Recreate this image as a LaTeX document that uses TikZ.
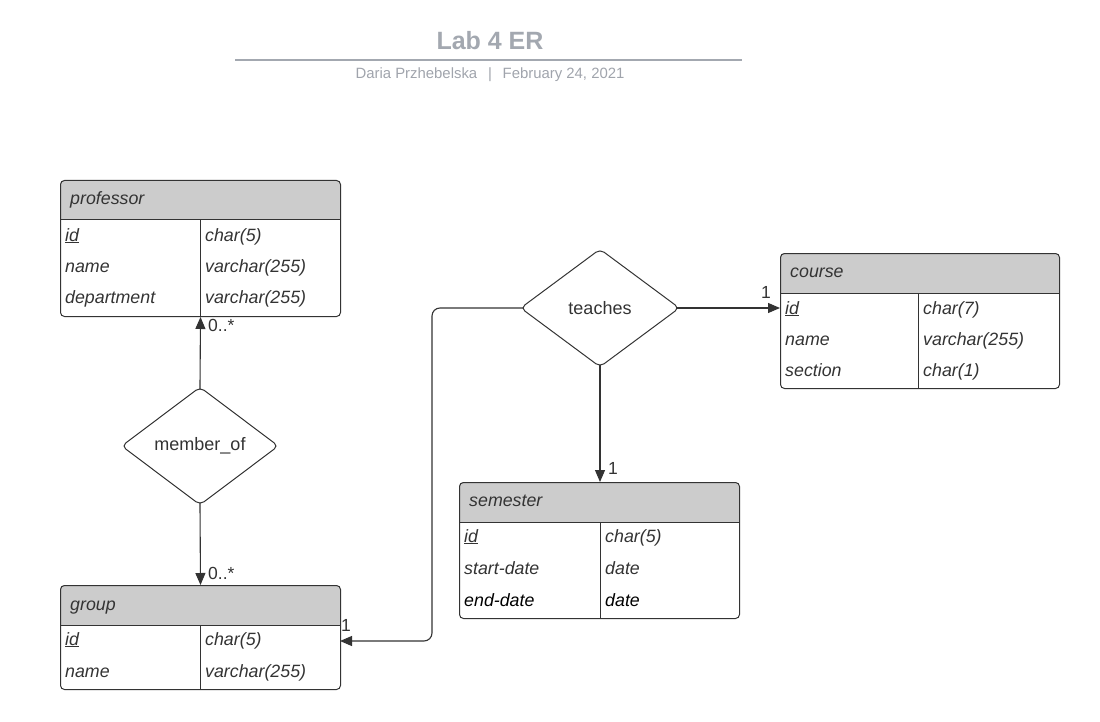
\documentclass[tikz,border=0pt]{standalone}
\usepackage{fontspec}
\setmainfont{Liberation Sans}
\usetikzlibrary{shapes.geometric,arrows.meta}
\definecolor{titlegray}{RGB}{163,168,176}
\definecolor{subgray}{RGB}{160,164,172}
\definecolor{hdrfill}{RGB}{204,204,204}
\definecolor{ink}{RGB}{51,51,51}
\begin{document}
\begin{tikzpicture}[x=1pt,y=-1pt,
  tbl/.style={draw=ink, line width=1pt, rounded corners=4pt, inner sep=0pt, anchor=north west},
  rule/.style={draw=ink, line width=1pt},
  cell/.style={anchor=base west, inner sep=0pt, text=ink, font=\fontsize{17.8}{20}\selectfont\itshape},
  cellk/.style={cell, text=black},
  rel/.style={shape=diamond, draw=ink, line width=1pt, rounded corners=5pt, inner sep=0pt, text=ink, font=\fontsize{18}{20}\selectfont},
  conn/.style={draw=ink, line width=1.1pt, -{Triangle[length=12pt,width=10pt]}},
  card/.style={anchor=base west, inner sep=0pt, text=ink, font=\fontsize{17.5}{20}\selectfont}]
\useasboundingbox (0,0) rectangle (1100,722);

% title
\node[text=titlegray, font=\fontsize{25}{28}\selectfont\bfseries] (title) at (490,41) {Lab 4 ER};
\draw[titlegray, line width=2pt] (235,60) -- (742,60);
\node[text=subgray, font=\fontsize{14.9}{17}\selectfont] (subtitle) at (490,74.5) {Daria Przhebelska \ \,|\ \, February 24, 2021};

% professor
\begin{scope}
\clip[rounded corners=4pt] (60,180) rectangle (340,316);
\fill[hdrfill] (60,180) rectangle (340,220);
\end{scope}
\node[tbl, minimum width=280pt, minimum height=136pt] (professor) at (60,180) {};
\draw[rule] (60,220) -- (340,220);
\draw[rule] (200,220) -- (200,316);
\node[cell] (p-h) at (70,205) {professor};
\node[cell] (p-1a) at (65,241) {\underline{id}};
\node[cell] (p-1b) at (205,241) {char(5)};
\node[cell] (p-2a) at (65,272) {name};
\node[cell] (p-2b) at (205,272) {varchar(255)};
\node[cell] (p-3a) at (65,303) {department};
\node[cell] (p-3b) at (205,303) {varchar(255)};

% course
\begin{scope}
\clip[rounded corners=4pt] (780,253) rectangle (1059,388);
\fill[hdrfill] (780,253) rectangle (1059,293);
\end{scope}
\node[tbl, minimum width=279pt, minimum height=135pt] (course) at (780,253) {};
\draw[rule] (780,293) -- (1059,293);
\draw[rule] (918,293) -- (918,388);
\node[cell] (c-h) at (790,277) {course};
\node[cell] (c-1a) at (785,314) {\underline{id}};
\node[cell] (c-1b) at (923,314) {char(7)};
\node[cell] (c-2a) at (785,345) {name};
\node[cell] (c-2b) at (923,345) {varchar(255)};
\node[cell] (c-3a) at (785,376) {section};
\node[cell] (c-3b) at (923,376) {char(1)};

% semester
\begin{scope}
\clip[rounded corners=4pt] (459,482) rectangle (739,618);
\fill[hdrfill] (459,482) rectangle (739,522);
\end{scope}
\node[tbl, minimum width=280pt, minimum height=136pt] (semester) at (459,482) {};
\draw[rule] (459,522) -- (739,522);
\draw[rule] (600,522) -- (600,618);
\node[cell] (s-h) at (469,506) {semester};
\node[cell] (s-1a) at (464,542) {\underline{id}};
\node[cell] (s-1b) at (605,542) {char(5)};
\node[cell] (s-2a) at (464,574) {start-date};
\node[cell] (s-2b) at (605,574) {date};
\node[cellk] (s-3a) at (464,606) {end-date};
\node[cellk] (s-3b) at (605,606) {date};

% group
\begin{scope}
\clip[rounded corners=4pt] (60,585) rectangle (340,689);
\fill[hdrfill] (60,585) rectangle (340,625);
\end{scope}
\node[tbl, minimum width=280pt, minimum height=104pt] (group) at (60,585) {};
\draw[rule] (60,625) -- (340,625);
\draw[rule] (200,625) -- (200,689);
\node[cell] (g-h) at (70,610) {group};
\node[cell] (g-1a) at (65,645) {\underline{id}};
\node[cell] (g-1b) at (205,645) {char(5)};
\node[cell] (g-2a) at (65,677) {name};
\node[cell] (g-2b) at (205,677) {varchar(255)};

% relationships
\node[rel, minimum width=157pt, minimum height=118pt, aspect=1.33] (memberof) at (200,446) {member\_of};
\node[rel, minimum width=159pt, minimum height=118pt, aspect=1.35] (teaches) at (600,308) {teaches};

% connectors
\draw[conn, shorten <=-3pt] (memberof.north) -- (professor.south);
\draw[conn, shorten <=-3pt] (memberof.south) -- (group.north);
\coordinate (cin) at (780,308);
\draw[conn, shorten <=-3pt] (teaches.east) -- (cin);
\coordinate (sin) at (600,482);
\draw[conn, shorten <=-3pt] (teaches.south) -- (sin);
\coordinate (bend) at (432,641);
\coordinate (gin) at (340,641);
\draw[conn, shorten <=-3pt, rounded corners=8pt] (teaches.west) -| (bend) -- (gin);

% cardinalities
\node[card] (k1) at (208,331) {0..*};
\node[card] (k2) at (208,579) {0..*};
\node[card] (k3) at (761,298) {1};
\node[card] (k4) at (608,474) {1};
\node[card] (k5) at (341,631) {1};
\end{tikzpicture}
\end{document}
